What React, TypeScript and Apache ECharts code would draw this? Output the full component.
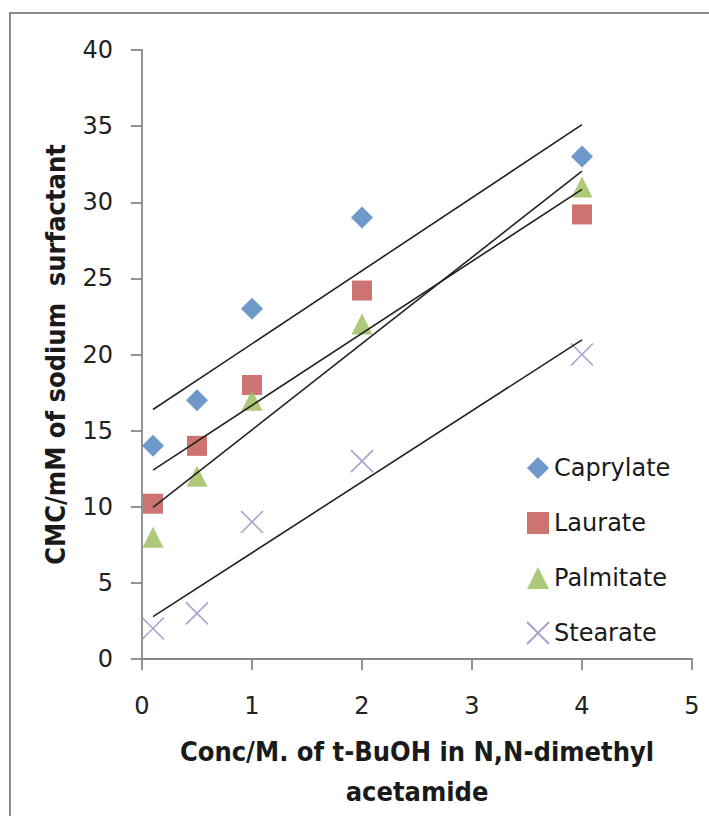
import React, { useEffect, useRef } from "react";
import * as echarts from "echarts";

const xValues = [0.1, 0.5, 1, 2, 4];
const seriesNames = ["Caprylate", "Laurate", "Palmitate", "Stearate"];
const caprylate = [14, 17, 23, 29, 33];
const laurate = [10.2, 14, 18, 24.2, 29.2];
const palmitate = [8, 12, 17, 22, 31];
const stearate = [2, 3, 9, 13, 20];
const xTicks = [0, 1, 2, 3, 4, 5];
const yTicks = [0, 5, 10, 15, 20, 25, 30, 35, 40];

const colors = ["#4A7EBB", "#C0504D", "#9BBB59", "#9A86C4"];
const symbols = ["diamond", "rect", "triangle", "path://M0,0L20,20M20,0L0,20"];
const sizes = [22, 20, 21, 22];

function linearFit(xs: number[], ys: number[]) {
  const n = xs.length;
  const mx = xs.reduce((a, b) => a + b, 0) / n;
  const my = ys.reduce((a, b) => a + b, 0) / n;
  let sxy = 0;
  let sxx = 0;
  for (let i = 0; i < n; i++) {
    sxy += (xs[i] - mx) * (ys[i] - my);
    sxx += (xs[i] - mx) * (xs[i] - mx);
  }
  const slope = sxy / sxx;
  const intercept = my - slope * mx;
  return (x: number) => slope * x + intercept;
}

export default function App() {
  const ref = useRef<HTMLDivElement>(null);
  useEffect(() => {
    if (!ref.current) return;
    const chart = echarts.init(ref.current, null, { renderer: "svg" });
    const all = [caprylate, laurate, palmitate, stearate];
    const scatterSeries = all.map((ys, i) => ({
      name: seriesNames[i],
      type: "scatter",
      symbol: symbols[i],
      symbolSize: sizes[i],
      data: xValues.map((x, j) => [x, ys[j]]),
      itemStyle:
        i === 3
          ? { color: "transparent", borderColor: colors[i], borderWidth: 1.6 }
          : { color: colors[i] },
      z: 2,
    }));
    const x0 = xValues[0];
    const x1 = xValues[xValues.length - 1];
    const trendSeries = all.map((ys, i) => {
      const f = linearFit(xValues, ys);
      return {
        name: seriesNames[i] + " trend",
        type: "line",
        symbol: "none",
        data: [
          [x0, f(x0)],
          [x1, f(x1)],
        ],
        lineStyle: { color: "#222", width: 1.6 },
        silent: true,
        z: 3,
      };
    });
    const fontBase = "'DejaVu Sans', sans-serif";
    const fontCond = "'DejaVu Sans Condensed', 'DejaVu Sans', sans-serif";
    chart.setOption({
      animation: false,
      backgroundColor: "#fff",
      graphic: [
        {
          type: "rect",
          shape: { x: 10, y: 13, width: 900, height: 900 },
          style: { fill: "none", stroke: "#8c8c8c", lineWidth: 2 },
          silent: true,
        },
      ],
      grid: { left: 142, right: 17, top: 50, bottom: 153 },
      legend: {
        data: seriesNames,
        orient: "vertical",
        left: 521,
        top: 451,
        itemWidth: 22,
        itemHeight: 22,
        itemGap: 31,
        textStyle: { fontFamily: fontBase, fontSize: 24, color: "#1a1a1a" },
      },
      xAxis: {
        type: "value",
        min: xTicks[0],
        max: xTicks[xTicks.length - 1],
        interval: 1,
        name: "Conc/M. of t-BuOH in N,N-dimethyl\nacetamide",
        nameLocation: "middle",
        nameGap: 72,
        nameTextStyle: {
          fontFamily: fontCond,
          fontSize: 27,
          fontWeight: "bold",
          color: "#1a1a1a",
          lineHeight: 40,
          verticalAlign: "top",
        },
        axisLine: { lineStyle: { color: "#878787", width: 1.8 } },
        axisTick: { inside: false, length: 11, lineStyle: { color: "#878787", width: 1.8 } },
        axisLabel: { margin: 35, fontFamily: fontBase, fontSize: 24, color: "#222" },
        splitLine: { show: false },
      },
      yAxis: {
        type: "value",
        min: yTicks[0],
        max: yTicks[yTicks.length - 1],
        interval: 5,
        name: "CMC/mM of sodium  surfactant",
        nameLocation: "middle",
        nameGap: 73,
        nameTextStyle: {
          fontFamily: fontCond,
          fontSize: 27,
          fontWeight: "bold",
          color: "#1a1a1a",
        },
        axisLine: { show: true, lineStyle: { color: "#878787", width: 1.8 } },
        axisTick: { show: true, inside: false, length: 11, lineStyle: { color: "#878787", width: 1.8 } },
        axisLabel: { margin: 29, fontFamily: fontBase, fontSize: 24, color: "#222" },
        splitLine: { show: false },
      },
      series: [...scatterSeries, ...trendSeries],
    });
    return () => chart.dispose();
  }, []);
  return (
    <div
      ref={ref}
      style={{ position: "absolute", left: 0, top: 0, width: 709, height: 816 }}
    />
  );
}
